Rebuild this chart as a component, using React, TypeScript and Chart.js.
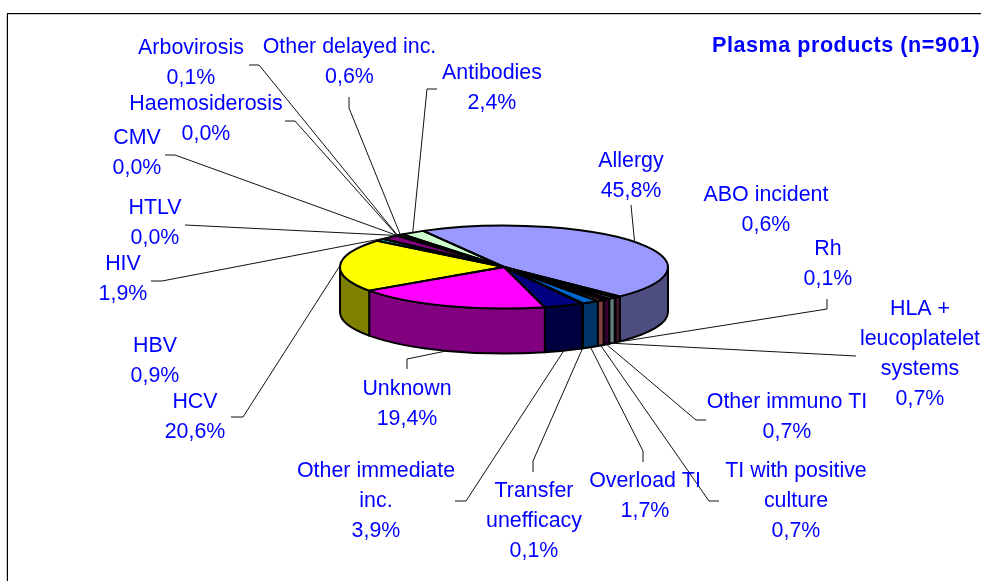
import React, { useEffect, useRef } from "react";
import { Chart, registerables } from "chart.js";

Chart.register(...registerables);

const categories = [
  "Allergy", "ABO incident", "Rh", "HLA + leucoplatelet systems", "Other immuno TI",
  "TI with positive culture", "Overload TI", "Transfer unefficacy", "Other immediate inc.",
  "Unknown", "HCV", "HBV", "HIV", "HTLV", "CMV", "Haemosiderosis", "Arbovirosis",
  "Other delayed inc.", "Antibodies",
];
const percentages = [45.8, 0.6, 0.1, 0.7, 0.7, 0.7, 1.7, 0.1, 3.9, 19.4, 20.6, 0.9, 1.9, 0.0, 0.0, 0.0, 0.1, 0.6, 2.4];
const sliceColors = [
  "#9999FF", "#993366", "#FFFFCC", "#CCFFFF", "#660066", "#FF8080", "#0066CC", "#CCCCFF", "#000080",
  "#FF00FF", "#FFFF00", "#00FFFF", "#800080", "#800000", "#008080", "#0000FF", "#00CCFF", "#CCFFFF", "#CCFFCC",
];
const title = "Plasma products (n=901)";

// Wrapped label text, keyed by category
const wrapped: Record<string, string[]> = {
  "HLA + leucoplatelet systems": ["HLA +", "leucoplatelet", "systems"],
  "TI with positive culture": ["TI with positive", "culture"],
  "Transfer unefficacy": ["Transfer", "unefficacy"],
  "Other immediate inc.": ["Other immediate", "inc."],
};

// Layout of labels: centre x, first line centre y
const labelLayout: [number, number][] = [
  [631, 160], [766, 194], [828, 248], [920, 308], [787, 401], [796, 470], [645, 480], [534, 490], [376, 470],
  [407, 388], [195, 401], [155, 345], [123, 263], [155, 207], [137, 137], [206, 103], [191, 47], [349.5, 46], [492, 72],
];
// Layout of leader lines: points from the label to the elbow; the pie end comes from the arc
const leaderLayout: ([number, number][] | null)[] = [
  [[631, 205]], null, [[827, 299], [827, 309]], [[856, 356]], [[706, 420], [696, 420]], [[719, 501], [709, 501]],
  [[643, 462], [643, 451]], [[533, 472], [533, 461]], [[455, 501], [466, 501]],
  [[407, 369], [407, 359]], [[231, 417], [243, 417]], null, [[151, 281], [162, 281]], [[185, 225]],
  [[165, 155], [175, 155]], [[285, 121], [295, 121]], [[249, 65], [259, 65]], [[349, 97], [349, 108]], [[437, 89], [427, 89]],
];

const SQUASH = 41.5 / 164;
const DEPTH = 45;
const LABEL_FONT = '21.4px "Liberation Sans", Arial, sans-serif';
const TITLE_FONT = 'bold 21.6px "Liberation Sans", Arial, sans-serif';
const LINE_HEIGHT = 30;
const OUTLINE = 2;

function darken(hex: string): string {
  const n = parseInt(hex.slice(1), 16);
  const c = [(n >> 16) & 255, (n >> 8) & 255, n & 255].map((v) => Math.round(v / 2));
  return `rgb(${c[0]},${c[1]},${c[2]})`;
}

function ellipseArc(ctx: CanvasRenderingContext2D, x: number, y: number, r: number, a: number, b: number, ccw = false) {
  ctx.ellipse(x, y, r, r * SQUASH, 0, a, b, ccw);
}

const pie3d = {
  id: "pie3d",
  beforeDraw(chart: any) {
    const { ctx, width, height } = chart;
    ctx.save();
    ctx.fillStyle = "#fff";
    ctx.fillRect(0, 0, width, height);
    ctx.fillStyle = "#000";
    ctx.fillRect(7, 13, width - 7, 1);
    ctx.fillRect(7, 13, 1, height - 13);
    ctx.fillStyle = "#ccc";
    ctx.fillRect(8, 14, width - 8, 1);
    ctx.fillRect(6, 14, 1, height - 14);
    ctx.restore();
  },
  beforeDatasetDraw(chart: any) {
    const { ctx } = chart;
    const arcs = chart.getDatasetMeta(0).data;
    ctx.save();
    ctx.lineWidth = OUTLINE;
    ctx.lineJoin = "round";
    ctx.strokeStyle = "#000";
    arcs.forEach((el: any, i: number) => {
      const s = Math.max(el.startAngle, 0);
      const e = Math.min(el.endAngle, Math.PI);
      if (e <= s) return;
      ctx.beginPath();
      ellipseArc(ctx, el.x, el.y, el.outerRadius, s, e);
      ellipseArc(ctx, el.x, el.y + DEPTH, el.outerRadius, e, s, true);
      ctx.closePath();
      ctx.fillStyle = darken(sliceColors[i]);
      ctx.fill();
      ctx.stroke();
    });
    ctx.restore();
    // flatten the library's own arcs into the tilted top surface
    const first = arcs[0];
    ctx.save();
    ctx.translate(first.x, first.y);
    ctx.scale(1, SQUASH);
    ctx.translate(-first.x, -first.y);
  },
  afterDatasetDraw(chart: any) {
    const { ctx } = chart;
    ctx.restore();
    const arcs = chart.getDatasetMeta(0).data;
    ctx.save();
    ctx.lineWidth = OUTLINE;
    ctx.lineJoin = "round";
    ctx.strokeStyle = "#000";
    arcs.forEach((el: any) => {
      ctx.beginPath();
      ctx.moveTo(el.x, el.y);
      ellipseArc(ctx, el.x, el.y, el.outerRadius, el.startAngle, el.endAngle);
      ctx.closePath();
      ctx.stroke();
    });
    // leader lines
    ctx.lineWidth = 1;
    ctx.strokeStyle = "#111";
    arcs.forEach((el: any, i: number) => {
      const pts = leaderLayout[i];
      if (!pts) return;
      const mid = (el.startAngle + el.endAngle) / 2;
      const front = Math.sin(mid) > 0.05;
      const ex = el.x + Math.cos(mid) * el.outerRadius;
      const ey = el.y + Math.sin(mid) * el.outerRadius * SQUASH + (front ? DEPTH : 0);
      ctx.beginPath();
      pts.forEach((p, k) => (k ? ctx.lineTo(p[0], p[1]) : ctx.moveTo(p[0], p[1])));
      ctx.lineTo(ex, ey);
      ctx.stroke();
    });
    // labels
    ctx.fillStyle = "#0000FF";
    ctx.textAlign = "center";
    ctx.textBaseline = "middle";
    ctx.font = LABEL_FONT;
    categories.forEach((name, i) => {
      const lines = [...(wrapped[name] ?? [name]), percentages[i].toFixed(1).replace(".", ",") + "%"];
      const [x, y] = labelLayout[i];
      lines.forEach((t, k) => ctx.fillText(t, x, y + 1 + k * LINE_HEIGHT));
    });
    ctx.font = TITLE_FONT;
    ctx.textAlign = "left";
    (ctx as any).letterSpacing = "0.52px";
    ctx.fillText(title, 712, 46);
    ctx.restore();
  },
};

export default function App() {
  const ref = useRef<HTMLCanvasElement>(null);
  useEffect(() => {
    const chart = new Chart(ref.current!, {
      type: "pie",
      data: {
        labels: categories,
        datasets: [
          {
            data: percentages,
            backgroundColor: sliceColors,
            borderWidth: 0,
            hoverBorderWidth: 0,
            hoverOffset: 0,
          },
        ],
      },
      options: {
        animation: false,
        responsive: false,
        events: [],
        rotation: -29.5,
        layout: { padding: { left: 340, right: 313, top: 103, bottom: 150 } },
        plugins: { legend: { display: false }, tooltip: { enabled: false }, title: { display: false } },
      },
      plugins: [pie3d],
    });
    return () => chart.destroy();
  }, []);
  return (
    <canvas ref={ref} width={981} height={581} style={{ position: "fixed", left: 0, top: 0, display: "block" }} />
  );
}
